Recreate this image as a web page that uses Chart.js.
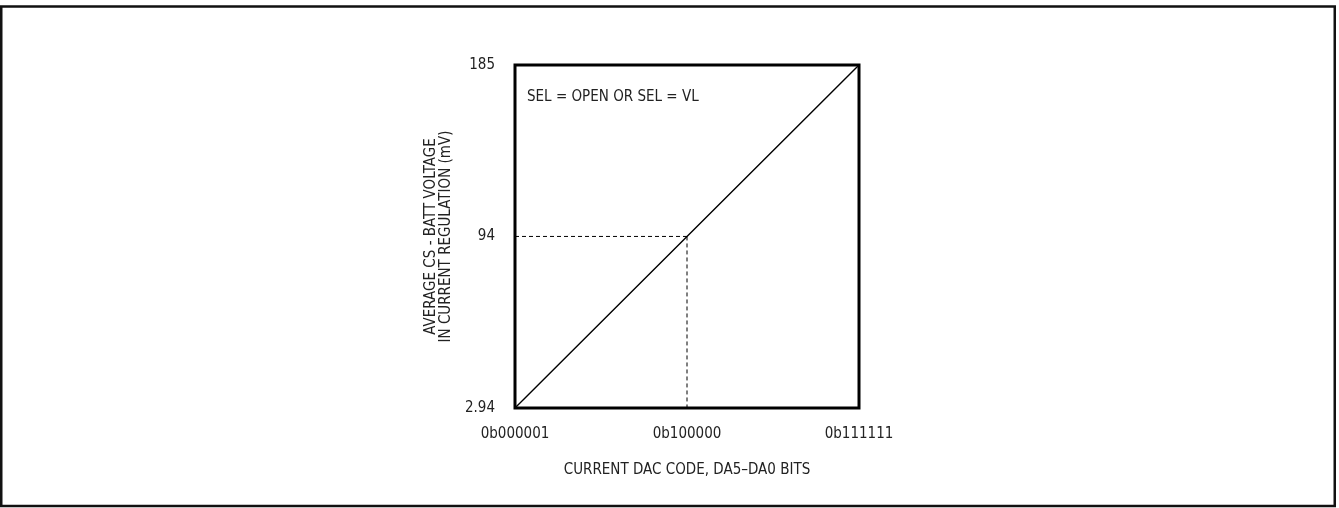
<!DOCTYPE html>
<html>
<head>
<meta charset="utf-8">
<script src="https://cdn.jsdelivr.net/npm/chart.js@4/dist/chart.umd.min.js"></script>
<style>
  html, body { margin: 0; padding: 0; background: #fff; }
  #wrap { width: 1339px; height: 508px; }
</style>
</head>
<body>
<div id="wrap"><canvas id="dacChart" width="1339" height="508"></canvas></div>
<script>
// values
const dacCodes = [1, 32, 63];
const csVoltages = [2.94, 94, 185];
const xTickValues = [1, 32, 63];
const xTickLabels = ["0b000001", "0b100000", "0b111111"];
const yTickValues = [2.94, 94, 185];
const yTickLabels = ["2.94", "94", "185"];
const noteText = "SEL = OPEN OR SEL = VL";

const FONT = "'Liberation Sans Narrow', 'DejaVu Sans Condensed', 'Arial Narrow', sans-serif";
const INK = "#222";

const xMin = xTickValues[0], xMax = xTickValues[xTickValues.length - 1];
const yMin = yTickValues[0], yMax = yTickValues[yTickValues.length - 1];

// main transfer line
const mainLine = dacCodes.map((c, i) => ({ x: c, y: csVoltages[i] }));

// dotted guides to the mid code
const guideH = [{ x: xMin, y: csVoltages[1] }, { x: dacCodes[1], y: csVoltages[1] }];
const guideV = [{ x: dacCodes[1], y: csVoltages[1] }, { x: dacCodes[1], y: yMin }];

const framePlugin = {
  id: "frame",
  afterDraw(chart) {
    const { ctx, chartArea: a } = chart;
    ctx.save();
    // outer page frame
    ctx.strokeStyle = "#111";
    ctx.lineWidth = 2.5;
    ctx.strokeRect(1.25, 6.5, 1333.5, 499.5);
    // plot box
    ctx.lineWidth = 3;
    ctx.strokeStyle = "#000";
    ctx.strokeRect(a.left, a.top, a.right - a.left, a.bottom - a.top);
    // note inside the box
    ctx.fillStyle = INK;
    ctx.font = "15px " + FONT;
    ctx.textBaseline = "middle";
    ctx.textAlign = "left";
    ctx.fillText(noteText, a.left + 12, a.top + 32);
    ctx.restore();
  }
};

new Chart(document.getElementById("dacChart"), {
  type: "line",
  data: {
    datasets: [
      {
        data: mainLine,
        borderColor: "#000",
        borderWidth: 1.4,
        pointRadius: 0,
        tension: 0
      },
      {
        data: guideH,
        borderColor: "#000",
        borderWidth: 1,
        borderDash: [4, 3],
        pointRadius: 0
      },
      {
        data: guideV,
        borderColor: "#000",
        borderWidth: 1,
        borderDash: [4, 3],
        pointRadius: 0
      }
    ]
  },
  options: {
    responsive: false,
    animation: false,
    layout: { padding: { left: 418, top: 65, right: 480, bottom: 20 } },
    plugins: {
      legend: { display: false },
      tooltip: { enabled: false }
    },
    scales: {
      x: {
        type: "linear",
        min: xMin,
        max: xMax,
        grid: { display: false, drawTicks: false },
        border: { display: false },
        afterBuildTicks: s => { s.ticks = xTickValues.map(v => ({ value: v })); },
        afterFit: s => { s.height = 80; },
        ticks: {
          color: INK,
          font: { family: FONT, size: 15 },
          padding: 17,
          maxRotation: 0,
          autoSkip: false,
          callback: v => xTickLabels[xTickValues.indexOf(v)]
        },
        title: {
          display: true,
          text: "CURRENT DAC CODE, DA5\u2013DA0 BITS",
          color: INK,
          font: { family: FONT, size: 15, lineHeight: 1 },
          padding: { top: 0, bottom: 10 }
        }
      },
      y: {
        type: "linear",
        min: yMin,
        max: yMax,
        grid: { display: false, drawTicks: false },
        border: { display: false },
        afterBuildTicks: s => { s.ticks = yTickValues.map(v => ({ value: v })); },
        afterFit: s => { s.width = 97; },
        ticks: {
          color: INK,
          font: { family: FONT, size: 15 },
          padding: 20,
          autoSkip: false,
          callback: v => yTickLabels[yTickValues.indexOf(v)]
        },
        title: {
          display: true,
          text: ["AVERAGE CS - BATT VOLTAGE", "IN CURRENT REGULATION (mV)"],
          color: INK,
          font: { family: FONT, size: 15, lineHeight: 1 },
          padding: { top: 6, bottom: 0 }
        }
      }
    }
  },
  plugins: [framePlugin]
});
</script>
</body>
</html>
